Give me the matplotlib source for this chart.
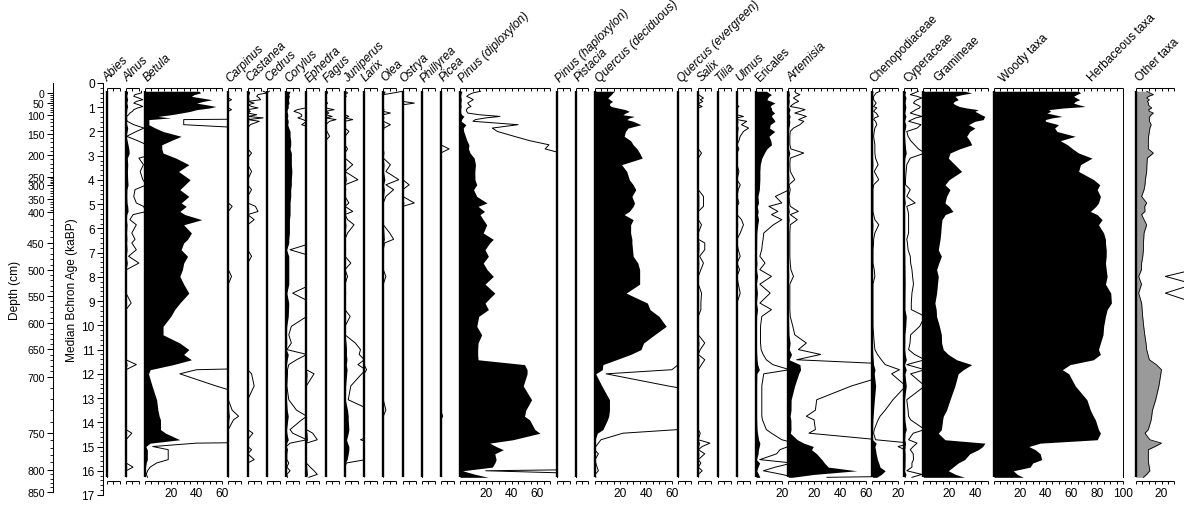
import numpy as np
import matplotlib
matplotlib.use("Agg")
import matplotlib.pyplot as plt

plt.rcParams['font.family'] = ['Liberation Sans', 'DejaVu Sans']

# ---------------- data ----------------
ages = [0.34, 0.41, 0.48, 0.55, 0.62, 0.69, 0.76, 0.83, 0.90, 0.97,
        1.03, 1.10, 1.17, 1.24, 1.31, 1.38, 1.44, 1.51, 1.58, 1.72,
        1.86, 2.00, 2.20, 2.38, 2.55, 2.72, 2.89, 3.10, 3.37, 3.65,
        3.99, 4.20, 4.40, 4.68, 4.95, 5.09, 5.30, 5.43, 5.64, 5.85,
        6.19, 6.45, 6.60, 6.88, 7.15, 7.43, 7.70, 7.98, 8.30, 8.67,
        9.08, 9.35, 9.63, 10.04, 10.39, 10.73, 11.00, 11.20, 11.42, 11.62,
        11.83, 12.00, 12.50, 13.07, 13.50, 13.75, 13.90, 14.30, 14.45, 14.72,
        14.86, 15.00, 15.13, 15.30, 15.54, 15.68, 15.85, 16.00, 16.15, 16.27]

betula = [42, 43, 38, 36, 44, 52, 45, 40, 48, 55,
          50, 40, 35, 28, 20, 10, 20, 3, 3, 3,
          8, 14, 28, 20, 13, 13, 14, 24, 34, 26,
          35, 31, 27, 34, 28, 32, 27, 31, 44, 30,
          36, 33, 30, 28, 33, 30, 29, 27, 30, 34,
          27, 23, 20, 14, 14, 27, 34, 30, 36, 22,
          4, 2.7, 5.5, 9, 10, 11, 12, 12, 16, 27,
          4, 0.6, 1.8, 1.8, 1.8, 0.9, 0.4, 0.2, 0.1, 0.2]

pinus_dipl = [1.6, 1.0, 0.7, 0.52, 0.8, 1.03, 0.8, 0.6, 0.7, 0.85,
              0.6, 0.5, 0.52, 0.6, 1.5, 3.1, 2.0, 1.2, 1.0, 4.5,
              2.5, 2.9, 4.2, 5.4, 6.9, 6.6, 7.8, 11, 12, 11.5,
              11.6, 13, 10.5, 13, 21, 14, 19, 15.5, 18, 20.7,
              18, 25.8, 23, 19.4, 22, 18, 21, 25.8, 19.4, 27,
              19.4, 22, 14.5, 13, 16.8, 14, 13.7, 13.7, 14, 50,
              52, 52, 49, 55.5, 51, 50, 54, 58, 62, 41,
              23, 28, 33.6, 27, 28, 27, 25, 2, 12, 22]

quercus_dec = [15.5, 14, 13, 11.5, 10.3, 12, 14, 12, 11.5, 13,
               18, 24, 27, 24, 22, 31, 27, 25, 30, 36,
               26, 24, 23, 28, 30, 33, 35, 37, 21, 25,
               27, 30, 32, 29, 31, 30, 27, 23, 30, 28,
               28, 29, 29, 29.5, 30, 33.6, 35, 35, 35, 24.5,
               41, 43, 50, 55.6, 46.5, 38, 36, 28, 16.8, 6.5,
               6, 0.9, 5.7, 11.6, 11.6, 11, 10, 6.5, 2.2, 0.5,
               0.3, 0.1, 0.0, 0.3, 0.05, 0.1, 0.2, 0.3, 0.05, 0.1]

ericales = [8, 10, 12, 10, 9, 8.5, 12, 14.7, 12, 11,
            12, 12, 13, 14.5, 12.5, 12, 13, 14, 14.7, 11,
            10.5, 14.5, 10, 11.5, 12, 8.3, 6.5, 4.5, 3.3, 3.0,
            3.0, 2.8, 2.6, 1.5, 2.0, 1.0, 1.7, 1.2, 2.0, 1.35,
            0.6, 0.55, 0.5, 0.44, 0.3, 0.7, 0.3, 1.2, 0.3, 1.1,
            0.3, 1.2, 0.45, 0.35, 0.35, 0.35, 0.4, 0.55, 0.8, 1.3,
            2.6, 0.6, 0.45, 0.45, 0.45, 0.45, 0.5, 0.8, 1.2, 2.0,
            3.0, 2.5, 1.86, 1.6, 0.3, 2.8, 1.5, 0.57, 2.0, 3.0]

artemisia = [0.5, 0.6, 0.9, 0.6, 0.4, 0.6, 0.8, 0.5, 0.3, 0.15,
             0.8, 1.3, 0.9, 0.5, 1.0, 1.4, 1.1, 0.8, 1.2, 0.9,
             0.4, 0.15, 0.12, 0.12, 0.12, 0.2, 1.2, 0.15, 0.12, 0.15,
             0.5, 0.05, 0.15, 0.05, 0.1, 0.15, 0.78, 0.15, 0.7, 0.15,
             0.12, 0.12, 0.12, 0.12, 0.12, 0.15, 0.2, 0.4, 0.12, 0.12,
             0.12, 0.12, 0.15, 0.35, 0.5, 1.4, 0.78, 2.5, 0.65, 9,
             9.5, 8, 4.9, 2.2, 2.1, 1.4, 2.0, 2.1, 1.6, 7,
             12, 19.4, 18, 22, 26, 28, 31, 53, 20, 3]

chenopodiaceae = [0.6, 0.3, 0.2, 0.1, 0.1, 0.1, 0.2, 0.3, 0.2, 0.1,
                  0.35, 0.2, 0.1, 0.3, 0.4, 0.47, 0.2, 0.1, 0.25, 0.35,
                  0.2, 0.15, 0.1, 0.15, 0.2, 0.2, 0.2, 0.25, 0.45, 0.15,
                  0.5, 0.1, 0.05, 0.05, 0.05, 0.05, 0.05, 0.1, 0.2, 0.5,
                  0.2, 0.1, 0.1, 0.05, 0.05, 0.05, 0.15, 0.2, 0.05, 0.05,
                  0.05, 0.05, 0.05, 0.05, 0.1, 0.15, 0.2, 0.4, 0.7, 1.0,
                  2.1, 1.5, 2.6, 1.6, 1.0, 0.6, 0.45, 0.15, 0.1, 0.25,
                  3, 2, 2.5, 3, 4, 5, 6, 10, 7, 3.4]

cyperaceae = [1.1, 0.8, 0.47, 1.0, 1.37, 1.0, 0.8, 0.72, 1.0, 1.24,
              1.2, 0.9, 0.7, 0.47, 0.9, 1.37, 0.9, 0.6, 0.34, 1.3,
              1.0, 0.2, 0.3, 0.5, 0.8, 1.1, 1.6, 0.47, 0.2, 0.15,
              0.1, 0.1, 0.47, 0.2, 0.85, 0.2, 0.3, 0.34, 0.34, 0.34,
              0.34, 0.2, 0.25, 0.3, 0.47, 0.5, 0.6, 0.65, 0.72, 0.6,
              0.55, 0.55, 1.6, 1.2, 0.5, 0.45, 0.34, 0.8, 1.6, 0.2,
              1.6, 0.5, 1.6, 0.2, 0.3, 0.34, 0.5, 1.6, 0.7, 0.34,
              1.0, 0.7, 0.47, 0.7, 0.72, 0.6, 0.6, 0.2, 1.37, 0.6]

gramineae = [32, 37.5, 30, 24.5, 26, 27, 24, 23, 25, 28,
             33.6, 42.6, 40, 42.6, 45, 47.8, 47, 46.5, 40, 35,
             40, 36, 33.6, 36, 37.5, 28, 20.7, 19.4, 24.5, 29.7,
             20, 16.8, 20.7, 18, 16.8, 20, 23, 17, 14.5, 14,
             13.5, 13, 12.5, 11.6, 14, 12, 10.3, 11.6, 11, 10.3,
             9, 10, 10.3, 12.5, 14, 14.2, 15.5, 19.4, 25.8, 37.5,
             31, 27, 24.5, 20.7, 18, 15.5, 15, 14, 11.6, 16.8,
             47.8, 46, 42.6, 36, 32, 27, 23, 19.4, 25, 32]

woody_taxa = [65.6, 67, 64, 61.7, 64, 66.4, 63, 61.7, 66, 70.8,
              54, 42.3, 44, 41, 47, 52.7, 45, 39.7, 40, 50,
              47, 48.8, 63, 51.4, 57, 61, 65.6, 76, 67, 65.6,
              77.3, 82, 80, 82.5, 81, 79, 74.7, 80, 83.8, 81,
              85, 86.4, 86.4, 87, 87, 86.4, 87, 87.7, 86.4, 90.5,
              91, 87.7, 86.4, 85, 84.5, 82.5, 81, 82.5, 77, 59,
              53, 58, 63, 72, 74.7, 77, 78.6, 81, 82.5, 80,
              35.8, 27, 32, 35.8, 37, 30, 28, 15, 18, 22.8]

other_taxa = [8.5, 11, 13.7, 10, 8.5, 10.6, 9, 10, 9.8, 11,
              12.4, 10, 10.6, 13.7, 12, 11, 10.5, 10.6, 10.6, 12,
              11, 10.6, 10, 9.8, 9.8, 9.8, 13.7, 9, 8.7, 8.5,
              7.5, 7.2, 6.5, 4.6, 8.5, 7, 7.2, 4.6, 6.5, 8.5,
              6.5, 6.2, 6, 6, 5.5, 4.6, 4.5, 2.3, 4.5, 2.3,
              4.6, 5, 5.4, 6.2, 7, 8, 8.5, 9.5, 10.6, 16,
              20, 19.5, 18, 15.5, 13, 12.4, 12, 9.8, 7.2, 11,
              20, 15, 9.8, 9.8, 9.8, 10, 10.5, 11, 8.5, 6]

# minor taxa: non-zero samples only (age -> %), all other samples are 0
abies = {}
alnus = {0.34: 1.2, 0.41: 1.2, 0.48: 0.7, 0.55: 0.6, 0.62: 1.0, 0.69: 1.3, 0.76: 0.8,
         0.83: 0.6, 0.90: 1.0, 0.97: 1.3, 1.03: 0.9, 1.10: 0.6, 1.17: 0.5, 1.24: 0.3,
         1.31: 0.2, 1.38: 0.05, 1.44: 0.05, 1.51: 0.05, 1.58: 0.1, 1.72: 0.6, 1.86: 1.4,
         2.00: 0.8, 2.20: 0.05, 2.38: 0.9, 2.55: 1.6, 2.72: 2.2, 2.89: 2.5, 3.10: 1.0,
         3.37: 1.35, 3.65: 1.1, 3.99: 1.3, 4.20: 1.6, 4.40: 0.7, 4.68: 0.6, 4.95: 0.8,
         5.09: 1.35, 5.30: 1.6, 5.43: 0.55, 5.64: 0.3, 5.85: 0.8, 6.19: 0.45, 6.45: 0.7,
         6.60: 0.45, 6.88: 0.8, 7.15: 0.2, 7.43: 1.0, 7.70: 0.05, 9.08: 0.4, 11.62: 0.8,
         14.45: 0.45, 15.85: 0.55}
carpinus = {0.69: 0.25, 1.10: 0.25, 5.09: 0.3, 7.98: 0.25, 13.50: 0.3, 13.75: 0.8, 13.90: 0.4}
castanea = {0.34: 1.2, 0.41: 1.5, 0.48: 0.8, 0.55: 0.7, 0.62: 0.9, 0.69: 1.0, 0.83: 0.5,
            0.97: 0.3, 1.03: 0.8, 1.17: 0.2, 1.31: 0.7, 1.44: 1.2, 1.58: 0.9, 1.72: 0.2,
            2.89: 0.3, 3.65: 0.3, 4.40: 0.3, 5.09: 0.6, 5.30: 0.8, 5.64: 0.5, 7.15: 0.3,
            12.00: 0.3, 12.50: 0.5, 14.45: 0.4, 15.13: 0.3, 15.54: 0.5}
cedrus = {0.34: 0.2}
corylus = {0.34: 3, 0.41: 2.5, 0.48: 2, 0.55: 2.5, 0.62: 2, 0.69: 1.8, 0.76: 2, 0.83: 2.2,
           0.90: 1.5, 0.97: 1.6, 1.03: 1.5, 1.10: 0.85, 1.17: 0.6, 1.24: 1.0, 1.31: 1.2,
           1.38: 1.2, 1.44: 0.9, 1.51: 1.3, 1.58: 1.6, 1.72: 1.2, 1.86: 2, 2.00: 3, 2.20: 3,
           2.38: 3.5, 2.55: 3.5, 2.72: 3, 2.89: 4, 3.10: 4, 3.37: 4, 3.65: 4.4, 3.99: 4,
           4.20: 4, 4.40: 3.5, 4.68: 3.5, 4.95: 3, 5.09: 3, 5.30: 3, 5.43: 3, 5.64: 2.5,
           5.85: 2.5, 6.19: 2.5, 6.45: 2, 6.60: 2, 6.88: 0.3, 7.15: 2, 7.43: 2, 7.70: 2,
           7.98: 2, 8.30: 2, 8.67: 0.5, 9.08: 2, 9.35: 1.8, 9.63: 1.6, 10.04: 0.4,
           10.39: 0.2, 10.73: 0.4, 11.00: 0.05, 11.20: 1.6, 11.42: 0.8, 11.62: 0.2,
           11.83: 0.1, 12.00: 0.1, 12.50: 0.05, 13.07: 0.2, 13.50: 0.8, 13.75: 1.6,
           13.90: 1.2, 14.30: 0.3, 14.45: 0.5, 14.72: 1.6, 14.86: 0.3, 15.13: 0.1,
           15.30: 0.05, 15.54: 0.05, 15.68: 0.2, 15.85: 0.05, 16.00: 0.3, 16.15: 0.05,
           16.27: 0.1}
ephedra = {12.00: 0.6, 14.45: 0.5, 14.72: 0.85, 15.85: 0.3, 16.00: 0.6, 16.15: 0.85, 16.27: 0.2}
fagus = {0.34: 0.1, 0.41: 0.15, 0.83: 0.15, 1.10: 0.65, 1.24: 0.25, 1.38: 0.5, 1.51: 0.8,
         1.58: 0.3, 2.00: 0.1, 2.20: 0.3}
juniperus = {0.41: 0.2, 0.55: 0.1, 1.38: 0.3, 1.51: 0.6, 2.00: 0.3, 2.72: 0.2, 3.37: 0.6,
             3.99: 1.0, 4.40: 0.05, 4.95: 0.3, 5.30: 0.6, 5.64: 0.2, 5.85: 0.7, 6.19: 0.2,
             6.88: 0.05, 7.43: 0.45, 7.98: 0.2, 8.67: 0.05, 9.63: 0.4, 10.73: 0.8, 11.00: 1.2,
             11.20: 1.1, 11.42: 1.5, 11.62: 1.0, 11.83: 1.6, 12.00: 1.3, 12.50: 0.45,
             13.07: 0.25, 13.50: 2, 13.75: 2.5, 13.90: 2.5, 14.30: 3, 14.45: 2.5, 14.72: 1.2,
             14.86: 2, 15.00: 3, 15.13: 3, 15.30: 2.5, 15.54: 1.6, 15.68: 0.1}
larix = {11.83: 0.2}
olea = {0.34: 1.5, 0.41: 0.8, 1.10: 0.05, 1.24: 0.55, 1.44: 0.05, 1.72: 0.55, 1.86: 0.05,
        2.89: 0.05, 3.37: 0.55, 3.65: 0.2, 3.99: 1.2, 4.20: 0.2, 4.40: 0.8, 4.68: 0.2,
        6.19: 0.5, 6.45: 0.8, 6.60: 0.1, 7.98: 0.2, 13.50: 0.2}
ostrya = {0.83: 0.9, 4.20: 0.5, 4.95: 0.9}
phillyrea = {}
picea = {2.72: 0.65, 13.75: 0.15}
pinus_hapl = {}
pistacia = {}
quercus_ever = {}
salix = {0.55: 0.2, 0.62: 0.4, 0.69: 0.15, 0.76: 0.35, 0.83: 0.1, 0.97: 0.3, 2.89: 0.25,
         4.68: 0.4, 4.95: 0.4, 5.09: 0.4, 5.85: 0.25, 6.60: 0.5, 6.88: 0.5, 7.15: 0.1,
         7.43: 0.4, 7.70: 0.2, 8.67: 0.25, 9.08: 0.2, 9.35: 0.2, 10.73: 0.5, 11.00: 0.15,
         11.42: 0.5, 11.62: 0.25, 14.45: 0.15, 14.86: 0.9, 15.00: 0.3, 15.30: 0.5,
         15.68: 0.2, 16.00: 0.3}
tilia = {}
ulmus = {0.97: 0.15, 1.38: 0.5, 1.58: 0.75, 1.72: 0.35, 1.86: 0.9, 2.00: 0.5, 2.20: 0.25,
         2.38: 0.15, 2.72: 0.15, 3.65: 0.15, 4.20: 0.25, 4.40: 0.1, 4.95: 0.15, 5.64: 0.35,
         5.85: 0.5, 6.19: 0.25, 6.88: 0.1, 7.15: 0.25, 7.70: 0.2, 8.30: 0.1, 8.67: 0.25}

depth_labels = [0, 50, 100, 150, 200, 250, 300, 350, 400, 450, 500, 550, 600, 650, 700, 750, 800, 850]
depth_ages = [0.41, 0.83, 1.31, 2.10, 2.97, 3.87, 4.21, 4.79, 5.34, 6.60, 7.72, 8.78, 9.92,
              10.98, 12.12, 14.44, 15.96, 16.86]

EXAG = 10

# ---------------- layout ----------------
W, H = 1184, 506
Y0, Y17 = 84.0, 496.0          # pixel rows of age 0 and age 17
PXPCT = 1.29                   # pixels per percent
fig = plt.figure(figsize=(W / 100, H / 100), dpi=100)
fig.patch.set_facecolor('white')

def age_of(py):
    return (py - Y0) / (Y17 - Y0) * 17.0

ax_bottom = 1 - Y17 / H
ax_height = (Y17 - Y0) / H

A = np.array(ages)

def series(v):
    if isinstance(v, dict):
        return np.array([v.get(a, 0.0) for a in ages], dtype=float)
    return np.array(v, dtype=float)

# name, data, left pixel, axis max %, label x pixel, italic
panels = [
    ("Abies", abies, 106.7, 10, 107.5, True),
    ("Alnus", alnus, 126.0, 10, 128.0, True),
    ("Betula", betula, 145.0, 60, 148.0, True),
    ("Carpinus", carpinus, 228.3, 10, 230.5, True),
    ("Castanea", castanea, 247.7, 10, 250.5, True),
    ("Cedrus", cedrus, 266.8, 10, 269.0, True),
    ("Corylus", corylus, 286.2, 10, 289.0, True),
    ("Ephedra", ephedra, 306.3, 10, 309.5, True),
    ("Fagus", fagus, 325.7, 10, 328.0, True),
    ("Juniperus", juniperus, 345.0, 10, 348.0, True),
    ("Larix", larix, 364.0, 10, 366.0, True),
    ("Olea", olea, 383.3, 10, 385.5, True),
    ("Ostrya", ostrya, 402.7, 10, 404.5, True),
    ("Phillyrea", phillyrea, 421.7, 10, 425.0, True),
    ("Picea", picea, 440.7, 10, 444.0, True),
    ("Pinus (diploxylon)", pinus_dipl, 460.0, 70, 463.0, True),
    ("Pinus (haploxylon)", pinus_hapl, 556.7, 10, 560.0, True),
    ("Pistacia", pistacia, 575.5, 10, 579.0, True),
    ("Quercus (deciduous)", quercus_dec, 594.5, 60, 600.0, True),
    ("Quercus (evergreen)", quercus_ever, 678.3, 10, 681.5, True),
    ("Salix", salix, 698.3, 10, 701.5, True),
    ("Tilia", tilia, 717.7, 10, 720.0, True),
    ("Ulmus", ulmus, 737.0, 10, 740.0, True),
    ("Ericales", ericales, 756.0, 20, 760.0, False),
    ("Artemisia", artemisia, 788.3, 60, 791.5, True),
    ("Chenopodiaceae", chenopodiaceae, 872.3, 20, 874.0, False),
    ("Cyperaceae", cyperaceae, 904.2, 10, 908.5, False),
    ("Gramineae", gramineae, 923.3, 50, 938.5, False),
    ("Woody taxa", woody_taxa, 994.0, 100, 1003.5, False),
    ("Other taxa", other_taxa, 1135.7, 30, 1139.5, False),
]

TOP_AX = age_of(89.0)
TOP_TK = age_of(91.8)
BOT_AX = age_of(481.7)
BOT_TK = age_of(484.6)
LAB_Y = age_of(494.5)
FS = 8.6
FS_NAME = 8.6

for i, (name, data, left, amax, labx, ital) in enumerate(panels):
    right = panels[i + 1][2] if i + 1 < len(panels) else W
    wpx = right - left
    ax = fig.add_axes([left / W, ax_bottom, wpx / W, ax_height])
    ax.set_xlim(0, wpx / PXPCT)
    ax.set_ylim(17, 0)
    ax.axis('off')
    v = series(data)
    colour = '#9a9a9a' if name == "Other taxa" else 'black'
    ax.fill_betweenx(A, 0, v, color=colour, lw=0)
    ax.plot(v * EXAG, A, color='black', lw=0.7)
    if name == "Other taxa":
        ax.plot(v, A, color='black', lw=0.6)
    ax.plot([0, 0], [A[0], A[-1]], color='black', lw=1.7, clip_on=False,
            solid_capstyle='butt')
    if name == "Woody taxa":
        ax.plot([100, 100], [A[0], A[-1]], color='black', lw=0.7)
    # tick axes at top and bottom
    ticks = np.arange(0, amax + 0.01, 5)
    for yax, ytk in ((TOP_AX, TOP_TK), (BOT_AX, BOT_TK)):
        ax.plot([0, amax], [yax, yax], color='black', lw=0.75, clip_on=False,
                solid_capstyle='butt')
        ax.vlines(ticks, yax, ytk, color='black', lw=0.7, clip_on=False)
    for t in np.arange(20, amax + 0.01, 20):
        ax.text(t, LAB_Y, f"{int(t)}", ha='center', va='center', fontsize=FS,
                clip_on=False)
    fig.text(labx / W, 1 - 82.5 / H, name, rotation=45, rotation_mode='anchor',
             ha='left', va='baseline', fontsize=FS_NAME,
             style='italic' if ital else 'normal')

fig.text(1091.5 / W, 1 - 82.5 / H, "Herbaceous taxa", rotation=45,
         rotation_mode='anchor', ha='left', va='baseline', fontsize=FS_NAME)

# ---------------- age axis ----------------
ax_age = fig.add_axes([103 / W, ax_bottom, 1 / W, ax_height])
ax_age.set_ylim(17, 0)
ax_age.set_xlim(0, 1)
for s in ('top', 'right', 'bottom'):
    ax_age.spines[s].set_visible(False)
ax_age.spines['left'].set_linewidth(0.75)
ax_age.set_xticks([])
ax_age.set_yticks(range(18))
ax_age.set_yticks(np.arange(0, 17.01, 0.2), minor=True)
ax_age.tick_params(axis='y', which='major', length=4, width=0.75, labelsize=FS, pad=2)
ax_age.tick_params(axis='y', which='minor', length=2.2, width=0.6)
ax_age.patch.set_visible(False)

# ---------------- depth axis ----------------
ax_dep = fig.add_axes([53 / W, ax_bottom, 1 / W, ax_height])
ax_dep.set_ylim(17, 0)
ax_dep.set_xlim(0, 1)
for s in ('top', 'right', 'bottom'):
    ax_dep.spines[s].set_visible(False)
ax_dep.spines['left'].set_linewidth(0.75)
ax_dep.spines['left'].set_bounds(0, depth_ages[-1])
ax_dep.set_xticks([])
ax_dep.set_yticks(depth_ages)
ax_dep.set_yticklabels([str(d) for d in depth_labels])
minor_depths = np.arange(0, 851, 10)
ax_dep.set_yticks(np.interp(minor_depths, depth_labels, depth_ages), minor=True)
ax_dep.tick_params(axis='y', which='major', length=4, width=0.75, labelsize=7.6, pad=2)
ax_dep.tick_params(axis='y', which='minor', length=2.2, width=0.6)
ax_dep.patch.set_visible(False)

fig.text(72 / W, 1 - 290 / H, "Median Bchron Age (kaBP)", rotation=90,
         ha='center', va='center', fontsize=FS)
fig.text(15 / W, 1 - 290 / H, "Depth (cm)", rotation=90,
         ha='center', va='center', fontsize=FS)

fig.savefig("out.png", dpi=100, facecolor='white')
